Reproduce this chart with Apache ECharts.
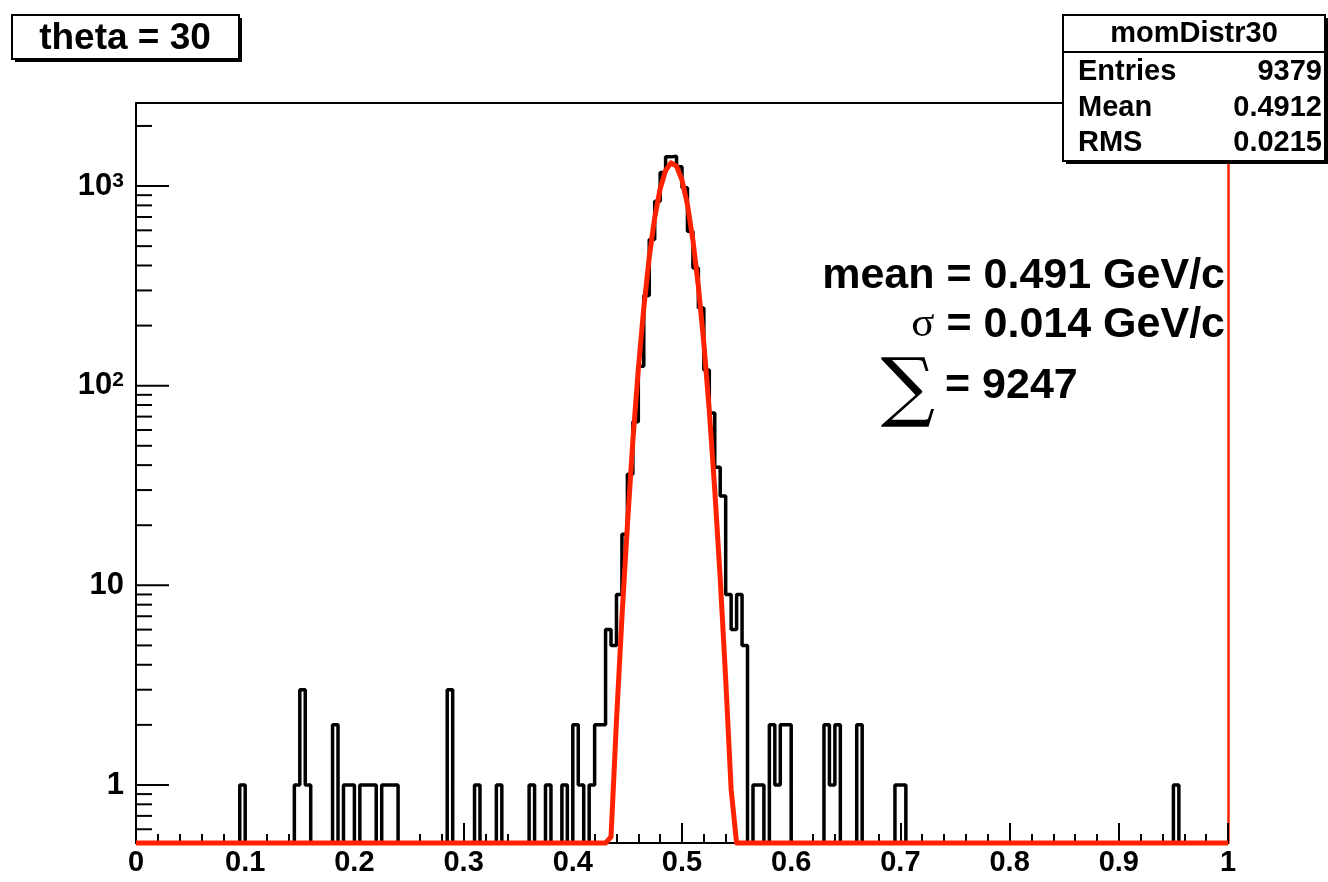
<!DOCTYPE html>
<html><head><meta charset="utf-8">
<script src="https://cdn.jsdelivr.net/npm/echarts@6/dist/echarts.min.js"></script>
<style>html,body{margin:0;padding:0;background:#fff}#c{width:1328px;height:882px}</style>
</head><body><div id="c"></div>
<script>
// ---- histogram binning (200 bins over 0..1) ----
const binLow = 0;
const binWidth = 0.005;
// counts per bin
const counts = [
  0,0,0,0,0,0,0,0,0,0, 0,0,0,0,0,0,0,0,0,1,
  0,0,0,0,0,0,0,0,0,1, 3,1,0,0,0,0,2,0,1,1,
  0,1,1,1,0,1,1,1,0,0, 0,0,0,0,0,0,0,3,0,0,
  0,0,1,0,0,0,1,0,0,0, 0,0,1,0,0,1,0,0,1,0,
  2,1,0,1,2,2,6,5,9,18, 36,66,125,283,540,839,1170,1400,1410,1250,
  980,593,389,245,120,73,39,28,9,6, 9,5,0,1,1,0,2,1,2,2,
  0,0,0,0,0,0,2,1,2,0, 0,0,2,0,0,0,0,0,0,1,
  1,0,0,0,0,0,0,0,0,0, 0,0,0,0,0,0,0,0,0,0,
  0,0,0,0,0,0,0,0,0,0, 0,0,0,0,0,0,0,0,0,0,
  0,0,0,0,0,0,0,0,0,0, 1,0,0,0,0,0,0,0,0,0
];
const fitX = [0, 0.430,0.435,0.440,0.445,0.450,0.455,0.460,0.465,0.470,0.475,0.480,0.485,0.490,0.495,0.500,0.505,0.510,0.515,0.520,0.525,0.530,0.535,0.540,0.545,0.550, 1];
const fitY = [0, 0.13,0.55,2.1,6.9,20,53,121,245,439,694,970,1198,1307,1259,1072,806,535,314,163,75,30,10.8,3.4,0.95,0.23, 0];
// axes
const xMin = 0, xMax = 1, xStep = 0.1;
const yMin = 0.512, yMax = 2606;
const yMajor = [1, 10, 100, 1000];
const yMajorBase = ['1', '10', '10', '10'];
const yMajorExp = ['', '', '2', '3'];
const yMinor = [0.6,0.7,0.8,0.9, 2,3,4,5,6,7,8,9, 20,30,40,50,60,70,80,90, 200,300,400,500,600,700,800,900, 2000];
// texts
const thetaLabel = 'theta = 30';
const statsTitle = 'momDistr30';
const statsNames = ['Entries', 'Mean', 'RMS'];
const statsValues = ['9379', '0.4912', '0.0215'];
const fitMeanText = 'mean = 0.491 GeV/c';
const fitSigmaValue = ' = 0.014 GeV/c';
const fitSumText = '= 9247';

const RED = '#ff2200';
const SANS = '"Liberation Sans", Arial, Helvetica, sans-serif';

const histData = counts.map((c, i) => [binLow + i * binWidth, Math.max(c, yMin)]);
histData.push([binLow + counts.length * binWidth, yMin]);
const fitData = fitX.map((x, i) => [x, Math.max(fitY[i], yMin)]);

const tickData = yMajor.map(v => [0, v, 1]).concat(yMinor.map(v => [0, v, 0]));
const labelData = yMajor.map((v, i) => [0, v, i]);

const chart = echarts.init(document.getElementById('c'), null, {renderer: 'canvas'});
chart.setOption({
  animation: false,
  backgroundColor: '#fff',
  grid: {left: 136, right: 100, top: 103, bottom: 39, outerBoundsMode: 'none'},
  xAxis: [{
    type: 'value', min: xMin, max: xMax, interval: xStep, position: 'bottom',
    axisLine: {show: true, onZero: false, lineStyle: {color: '#000', width: 2}},
    axisTick: {show: true, inside: true, length: 20, lineStyle: {color: '#000', width: 2}},
    minorTick: {show: true, splitNumber: 5, length: 9, lineStyle: {color: '#000', width: 2}},
    axisLabel: {color: '#000', fontSize: 29, fontWeight: 'bold', fontFamily: SANS, margin: 5},
    splitLine: {show: false}
  }, {
    type: 'value', min: xMin, max: xMax, position: 'top',
    axisLine: {show: true, onZero: false, lineStyle: {color: '#000', width: 2}},
    axisTick: {show: false}, axisLabel: {show: false}, splitLine: {show: false}
  }],
  yAxis: [{
    type: 'log', logBase: 10, min: yMin, max: yMax, position: 'left',
    axisLine: {show: true, onZero: false, lineStyle: {color: '#000', width: 2}},
    axisTick: {show: false}, axisLabel: {show: false}, splitLine: {show: false}, minorTick: {show: false}
  }, {
    type: 'log', logBase: 10, min: yMin, max: yMax, position: 'right',
    axisLine: {show: true, onZero: false, lineStyle: {color: RED, width: 2.5}},
    axisTick: {show: false}, axisLabel: {show: false}, splitLine: {show: false}, minorTick: {show: false}
  }],
  series: [{
    type: 'line', name: 'hist', data: histData, step: 'end', showSymbol: false, symbol: 'none',
    clip: false, silent: true, z: 3,
    lineStyle: {color: '#000', width: 3.5}
  }, {
    type: 'line', name: 'fit', data: fitData, showSymbol: false, symbol: 'none',
    clip: false, silent: true, z: 4,
    lineStyle: {color: RED, width: 5, join: 'round'}
  }, {
    type: 'custom', name: 'yticks', data: tickData, silent: true, z: 2,
    renderItem: function (params, api) {
      const p = api.coord([0, api.value(1)]);
      const len = api.value(2) ? 33 : 16;
      return {type: 'line', shape: {x1: p[0], y1: p[1], x2: p[0] + len, y2: p[1]},
        style: {stroke: '#000', lineWidth: 2}};
    }
  }, {
    type: 'custom', name: 'ylabels', data: labelData, silent: true, z: 2,
    renderItem: function (params, api) {
      const p = api.coord([0, api.value(1)]);
      const i = api.value(2);
      const txt = '{b|' + yMajorBase[i] + '}' + (yMajorExp[i] ? '{s|' + yMajorExp[i] + '}' : '');
      return {type: 'text', x: p[0] - 12, y: p[1],
        style: {text: txt, align: 'right', verticalAlign: 'middle',
          rich: {
            b: {fill: '#000', fontSize: 31, fontWeight: 'bold', fontFamily: SANS, lineHeight: 31},
            s: {fill: '#000', fontSize: 21, fontWeight: 'bold', fontFamily: SANS, lineHeight: 13, verticalAlign: 'top'}
          }}};
    }
  }],
  graphic: [
    {type: 'rect', z: 100, shape: {x: 15, y: 18, width: 227, height: 44}, style: {fill: '#000'}},
    {type: 'rect', z: 101, shape: {x: 12, y: 15, width: 227, height: 44}, style: {fill: '#fff', stroke: '#000', lineWidth: 2}},
    {type: 'text', z: 102, x: 125, y: 39, style: {text: thetaLabel, fill: '#000', font: 'bold 37px ' + SANS, align: 'center', verticalAlign: 'middle'}},

    {type: 'rect', z: 100, shape: {x: 1066, y: 18, width: 262, height: 146}, style: {fill: '#000'}},
    {type: 'rect', z: 101, shape: {x: 1063, y: 15, width: 262, height: 146}, style: {fill: '#fff', stroke: '#000', lineWidth: 2}},
    {type: 'line', z: 102, shape: {x1: 1063, y1: 52, x2: 1325, y2: 52}, style: {stroke: '#000', lineWidth: 2}},
    {type: 'text', z: 102, x: 1194, y: 34, style: {text: statsTitle, fill: '#000', font: 'bold 29px ' + SANS, align: 'center', verticalAlign: 'middle'}},
    {type: 'text', z: 102, x: 1078, y: 72, style: {text: statsNames[0], fill: '#000', font: 'bold 29px ' + SANS, align: 'left', verticalAlign: 'middle'}},
    {type: 'text', z: 102, x: 1078, y: 108, style: {text: statsNames[1], fill: '#000', font: 'bold 29px ' + SANS, align: 'left', verticalAlign: 'middle'}},
    {type: 'text', z: 102, x: 1078, y: 143, style: {text: statsNames[2], fill: '#000', font: 'bold 29px ' + SANS, align: 'left', verticalAlign: 'middle'}},
    {type: 'text', z: 102, x: 1322, y: 72, style: {text: statsValues[0], fill: '#000', font: 'bold 29px ' + SANS, align: 'right', verticalAlign: 'middle'}},
    {type: 'text', z: 102, x: 1322, y: 108, style: {text: statsValues[1], fill: '#000', font: 'bold 29px ' + SANS, align: 'right', verticalAlign: 'middle'}},
    {type: 'text', z: 102, x: 1322, y: 143, style: {text: statsValues[2], fill: '#000', font: 'bold 29px ' + SANS, align: 'right', verticalAlign: 'middle'}},

    {type: 'text', z: 102, x: 1225, y: 276, style: {text: fitMeanText, fill: '#000', font: 'bold 43px ' + SANS, align: 'right', verticalAlign: 'middle'}},
    {type: 'text', z: 102, x: 1225, y: 325, style: {
      text: '{g|\u03c3}{b|' + fitSigmaValue + '}', align: 'right', verticalAlign: 'middle',
      rich: {g: {fill: '#000', fontSize: 43, fontFamily: '"Liberation Serif", "DejaVu Serif", serif', fontWeight: 'normal'},
             b: {fill: '#000', fontSize: 43, fontFamily: SANS, fontWeight: 'bold'}}}},
    {type: 'text', z: 102, x: 908, y: 392, style: {text: '\u2211', fill: '#000', font: '76px "DejaVu Serif", serif', align: 'center', verticalAlign: 'middle'}},
    {type: 'text', z: 102, x: 945, y: 386, style: {text: fitSumText, fill: '#000', font: 'bold 43px ' + SANS, align: 'left', verticalAlign: 'middle'}}
  ]
});
</script>
</body></html>
